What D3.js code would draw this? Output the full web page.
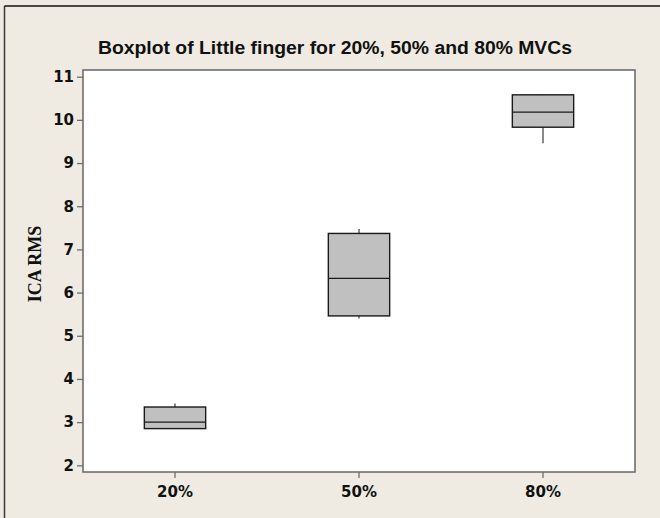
<!DOCTYPE html>
<html>
<head>
<meta charset="utf-8">
<script src="https://cdn.jsdelivr.net/npm/d3@7"></script>
<style>
  html, body { margin: 0; padding: 0; background: #efebe2; }
  svg { display: block; }
</style>
</head>
<body>
<svg id="chart" width="660" height="518"></svg>
<script>
// ---- data ----
const categories = ["20%", "50%", "80%"];
const whiskerLow  = [2.84, 5.40, 9.46];
const q1          = [2.85, 5.46, 9.83];
const medians     = [3.00, 6.33, 10.18];
const q3          = [3.35, 7.37, 10.58];
const whiskerHigh = [3.43, 7.47, 10.59];
const yTicks = [2, 3, 4, 5, 6, 7, 8, 9, 10, 11];
const titleText = "Boxplot of Little finger for 20%, 50% and 80% MVCs";
const yLabel = "ICA RMS";

const boxes = categories.map((c, i) => ({
  cat: c, lo: whiskerLow[i], q1: q1[i], med: medians[i], q3: q3[i], hi: whiskerHigh[i]
}));

const svg = d3.select("#chart");
const W = 660, H = 518;
const plot = { left: 83, top: 70, right: 635, bottom: 472 };

// background and outer frame
svg.append("rect").attr("x", 0).attr("y", 0).attr("width", W).attr("height", H).attr("fill", "#efebe2");
svg.append("line").attr("x1", 4.5).attr("x2", 4.5).attr("y1", 6).attr("y2", H).attr("stroke", "#3a3a3a").attr("stroke-width", 1.5);
svg.append("line").attr("x1", 4.5).attr("x2", W).attr("y1", 6).attr("y2", 6).attr("stroke", "#111").attr("stroke-width", 1.5);

// scales
const x = d3.scaleBand().domain(categories).range([plot.left, plot.right]).paddingInner(0).paddingOuter(0);
const y = d3.scaleLinear().domain([1.845, 11.155]).range([plot.bottom, plot.top]);
const boxW = x.bandwidth() / 3;
const cx = d => x(d) + x.bandwidth() / 2;

// plot area
svg.append("rect")
  .attr("x", plot.left).attr("y", plot.top)
  .attr("width", plot.right - plot.left).attr("height", plot.bottom - plot.top)
  .attr("fill", "#ffffff").attr("stroke", "#6e6e6e").attr("stroke-width", 1.6);

// axes
const yAxis = d3.axisLeft(y).tickValues(yTicks).tickSize(6).tickPadding(3).tickFormat(d3.format("d"));
const gy = svg.append("g").attr("transform", `translate(${plot.left},0)`).call(yAxis);
gy.select(".domain").remove();
gy.selectAll(".tick line").attr("stroke", "#6e6e6e").attr("stroke-width", 1.3);
gy.selectAll(".tick text")
  .style("font-family", "'DejaVu Sans', Verdana, sans-serif")
  .style("font-weight", "bold").style("font-size", "15px").attr("fill", "#111");

const xAxis = d3.axisBottom(x).tickSize(6).tickPadding(8);
const gx = svg.append("g").attr("transform", `translate(0,${plot.bottom})`).call(xAxis);
gx.select(".domain").remove();
gx.selectAll(".tick line").attr("stroke", "#6e6e6e").attr("stroke-width", 1.3);
gx.selectAll(".tick text")
  .style("font-family", "'DejaVu Sans', Verdana, sans-serif")
  .style("font-weight", "bold").style("font-size", "15px").attr("fill", "#111");

// whiskers
const g = svg.append("g");
g.selectAll("line.wh-hi").data(boxes).join("line").attr("class", "wh-hi")
  .attr("x1", d => cx(d.cat)).attr("x2", d => cx(d.cat))
  .attr("y1", d => y(d.hi)).attr("y2", d => y(d.q3))
  .attr("stroke", "#8a8a8a").attr("stroke-width", 2);
g.selectAll("line.wh-lo").data(boxes).join("line").attr("class", "wh-lo")
  .attr("x1", d => cx(d.cat)).attr("x2", d => cx(d.cat))
  .attr("y1", d => y(d.lo)).attr("y2", d => y(d.q1))
  .attr("stroke", "#8a8a8a").attr("stroke-width", 2);

// boxes
g.selectAll("rect.box").data(boxes).join("rect").attr("class", "box")
  .attr("x", d => cx(d.cat) - boxW / 2).attr("width", boxW)
  .attr("y", d => y(d.q3)).attr("height", d => y(d.q1) - y(d.q3))
  .attr("fill", "#c0c0c0").attr("stroke", "#1a1a1a").attr("stroke-width", 1.4);

// medians
g.selectAll("line.med").data(boxes).join("line").attr("class", "med")
  .attr("x1", d => cx(d.cat) - boxW / 2).attr("x2", d => cx(d.cat) + boxW / 2)
  .attr("y1", d => y(d.med)).attr("y2", d => y(d.med))
  .attr("stroke", "#1a1a1a").attr("stroke-width", 1.4);

// title
svg.append("text")
  .attr("x", 335).attr("y", 54)
  .attr("text-anchor", "middle")
  .style("font-family", "'Liberation Sans', Arial, sans-serif")
  .style("font-weight", "bold").style("font-size", "17.5px")
  .attr("textLength", 474).attr("lengthAdjust", "spacingAndGlyphs")
  .attr("fill", "#111")
  .text(titleText);

// y label
svg.append("text")
  .attr("transform", "translate(41,264) rotate(-90)")
  .attr("text-anchor", "middle")
  .style("font-family", "'Liberation Serif', 'Times New Roman', serif")
  .style("font-weight", "bold").style("font-size", "18px")
  .attr("fill", "#111")
  .text(yLabel);
</script>
</body>
</html>
